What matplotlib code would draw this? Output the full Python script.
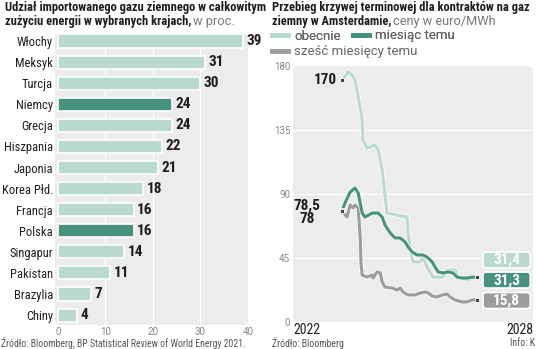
import numpy as np
import matplotlib
matplotlib.use('Agg')
import matplotlib.pyplot as plt
from matplotlib.patches import FancyBboxPatch
from matplotlib.lines import Line2D
import matplotlib.patheffects as pe

plt.rcParams['font.family'] = ['Roboto Condensed', 'DejaVu Sans']

# left chart: import share of natural gas, %
countries = ['Włochy', 'Meksyk', 'Turcja', 'Niemcy', 'Grecja', 'Hiszpania', 'Japonia',
             'Korea Płd.', 'Francja', 'Polska', 'Singapur', 'Pakistan', 'Brazylia', 'Chiny']
shares = [39, 31, 30, 24, 24, 22, 21, 18, 16, 16, 14, 11, 7, 4]
highlight = ['Niemcy', 'Polska']
bar_ticks = [0, 10, 20, 30, 40]

# right chart: forward curve, euro/MWh (x in years)
now_x = [2023.23, 2023.38, 2023.48, 2023.55, 2023.63, 2023.73, 2023.75, 2023.85, 2023.93,
         2024.05, 2024.13, 2024.23, 2024.30, 2024.35, 2024.60, 2024.85, 2024.88, 2024.93,
         2025.00, 2025.18, 2025.25, 2025.35, 2025.50, 2025.75, 2025.85, 2026.05, 2026.13,
         2026.35, 2026.60]
now_y = [170, 175.8, 173.7, 170.2, 158.2, 142, 128, 122.3, 123, 124.5, 121, 106.9, 89.3,
         76.6, 75.2, 73.8, 62.6, 50.6, 42.2, 42.2, 45.7, 38.7, 31.6, 31.6, 36.6, 36.6, 31.6,
         29.5, 31.4]
month_x = [2023.23, 2023.30, 2023.43, 2023.55, 2023.63, 2023.68, 2023.73, 2023.80, 2023.98,
           2024.13, 2024.23, 2024.30, 2024.43, 2024.55, 2024.68, 2024.80, 2024.88, 2024.98,
           2025.10, 2025.25, 2025.35, 2025.48, 2025.55, 2025.63, 2025.75, 2025.88, 2026.00,
           2026.10, 2026.23, 2026.35, 2026.50, 2026.60]
month_y = [78.5, 83.7, 91.4, 94.2, 90.7, 83.7, 76.6, 73.8, 76.6, 76.6, 73.8, 68.2, 62.6,
           59.1, 59.1, 56.3, 52.7, 49.2, 47.1, 47.1, 45.7, 42.2, 38.7, 35.2, 34.5, 35.2,
           34.5, 31.6, 30.9, 30.9, 31.6, 31.3]
half_x = [2023.23, 2023.35, 2023.43, 2023.50, 2023.55, 2023.63, 2023.68, 2023.70, 2023.73,
          2023.85, 2023.98, 2024.00, 2024.10, 2024.18, 2024.23, 2024.30, 2024.48, 2024.60,
          2024.68, 2024.75, 2024.88, 2025.05, 2025.18, 2025.30, 2025.38, 2025.48, 2025.60,
          2025.73, 2025.85, 2025.93, 2026.05, 2026.23, 2026.35, 2026.48, 2026.60]
half_y = [78, 73.8, 82.3, 80.2, 82.3, 80.2, 59.8, 41.5, 33, 31.6, 33, 30.9, 35.2, 34.5,
          28.1, 24.6, 23.9, 22.5, 23.9, 21.1, 19, 19, 20.4, 21.1, 20.4, 18.3, 17.6, 19,
          19.7, 17.6, 15.5, 14.1, 14.1, 15.5, 15.8]
price_ticks = [0, 45, 90, 135, 180]

LIGHT = '#bbdacf'
TEAL = '#47927f'
GREY = '#9c9c9c'
BG = '#ececec'
TXT = '#1e1e1e'

fig = plt.figure(figsize=(5.36, 3.49), dpi=100)
W, H = 536, 349


def box(px_left, px_top, px_right, px_bottom):
    return [px_left / W, 1 - px_bottom / H, (px_right - px_left) / W, (px_bottom - px_top) / H]


def rounded_bg(ax, wpx, hpx, r=0.025):
    ax.patch.set_visible(False)
    ax.add_patch(FancyBboxPatch((0, 0), 1, 1, boxstyle='round,pad=0,rounding_size=%f' % r,
                                mutation_aspect=wpx / hpx, transform=ax.transAxes,
                                facecolor=BG, edgecolor='none', zorder=0, clip_on=False))


# ---------- left: bars ----------
ax1 = fig.add_axes(box(55, 33, 248, 325))
rounded_bg(ax1, 193, 292)
ypos = np.arange(len(countries))
colors = [TEAL if c in highlight else LIGHT for c in countries]
ax1.barh(ypos, shares, height=0.62, color=colors, edgecolor='white', linewidth=1.2, zorder=3)
for y, v in zip(ypos, shares):
    ax1.text(v + 0.7, y, str(v), va='center', ha='left', fontsize=11,
             fontweight='bold', color=TXT, zorder=4)
ax1.set_xlim(-0.6, 40)
ax1.set_ylim(13.47, -0.38)
ax1.set_yticks(ypos)
ax1.set_yticklabels(countries, fontsize=9, color=TXT)
ax1.set_xticks(bar_ticks)
ax1.set_xticklabels([str(t) for t in bar_ticks], fontsize=7, color='#888888', family='Roboto')
ax1.tick_params(length=0, pad=1.5)
for t in bar_ticks[1:-1]:
    ax1.axvline(t, color='white', lw=0.8, zorder=1)
for s in ax1.spines.values():
    s.set_visible(False)

# ---------- right: lines ----------
ax2 = fig.add_axes(box(293, 66, 533, 322))
rounded_bg(ax2, 240, 256)
ax2.set_xlim(2022, 2028)
ax2.set_ylim(0, 180)
for t in price_ticks[1:-1]:
    ax2.axhline(t, color='white', lw=0.8, zorder=1)
halo = [pe.withStroke(linewidth=3.6, foreground='white', alpha=0.6)]
ax2.plot(half_x, half_y, color=GREY, lw=2.2, zorder=3, path_effects=halo, solid_capstyle='round')
ax2.plot(now_x, now_y, color=LIGHT, lw=2.2, zorder=4, path_effects=halo, solid_capstyle='round')
ax2.plot(month_x, month_y, color=TEAL, lw=2.2, zorder=5, path_effects=halo, solid_capstyle='round')

# start / end markers
for xs, ys in [(now_x, now_y), (month_x, month_y), (half_x, half_y)]:
    ax2.plot([xs[0], xs[-1]], [ys[0], ys[-1]], ls='none', marker='s', ms=2.6,
             mfc='#444444', mec='white', mew=0.6, zorder=6)

ax2.text(now_x[0] - 0.12, now_y[0], '%d' % now_y[0], ha='right', va='center',
         fontsize=11, fontweight='bold', color=TXT, zorder=6)
ax2.text(month_x[0] - 0.88, month_y[0] - 1.0,
         ('%.1f' % month_y[0]).replace('.', ',') + '\n' + '%d' % half_y[0],
         ha='center', va='center', fontsize=11, fontweight='bold', color=TXT,
         linespacing=0.95, zorder=6)

# end value boxes
for val, col, yc in [(now_y[-1], LIGHT, 43.6), (month_y[-1], TEAL, 29.5), (half_y[-1], GREY, 15.1)]:
    ax2.add_patch(FancyBboxPatch((2026.75, yc - 5.6), 1.18, 11.2,
                                 boxstyle='round,pad=0,rounding_size=0.07',
                                 mutation_aspect=28.1, facecolor=col, edgecolor='white',
                                 lw=1.2, zorder=6, clip_on=False))
    ax2.text(2027.34, yc, ('%.1f' % val).replace('.', ','), ha='center', va='center',
             fontsize=11, fontweight='bold', color='white', zorder=7)

ax2.set_yticks(price_ticks)
ax2.set_yticklabels([str(t) for t in price_ticks], fontsize=7, color='#888888', family='Roboto')
ax2.set_xticks([2022, 2028])
ax2.set_xticklabels(['2022', '2028'], fontsize=10, color=TXT)
ax2.get_xticklabels()[0].set_ha('left')
ax2.get_xticklabels()[1].set_ha('right')
ax2.tick_params(axis='y', length=0, pad=2)
ax2.tick_params(axis='x', length=0, pad=1)
for s in ax2.spines.values():
    s.set_visible(False)

# ---------- titles ----------
renderer = fig.canvas.get_renderer()


def mixed(x, y, bold, regular):
    t = fig.text(x / W, 1 - y / H, bold, fontsize=9, fontweight='bold', color=TXT, va='center')
    bb = t.get_window_extent(renderer)
    if regular:
        fig.text(bb.x1 / W + 0.002, 1 - y / H, regular, fontsize=9.2, color='#777777',
                 va='center', family='Roboto')


mixed(5, 8, 'Udział importowanego gazu ziemnego w całkowitym', '')
mixed(5, 22, 'zużyciu energii w wybranych krajach,', 'w proc.')
mixed(272, 8, 'Przebieg krzywej terminowej dla kontraktów na gaz', '')
mixed(272, 22, 'ziemny w Amsterdamie,', 'ceny w euro/MWh')

# legend (two rows, not column-aligned)
leg_kw = dict(frameon=False, handlelength=1.2, handletextpad=0.5, columnspacing=0.9,
              labelcolor='#666666', borderpad=0, borderaxespad=0, loc='center left',
              prop={'family': 'Roboto', 'size': 9.5})
leg1 = fig.legend([Line2D([], [], color=LIGHT, lw=3.5), Line2D([], [], color=TEAL, lw=3.5)],
                  ['obecnie', 'miesiąc temu'], ncol=2, bbox_to_anchor=(272 / W, 1 - 36 / H), **leg_kw)
fig.legend([Line2D([], [], color=GREY, lw=3.5)], ['sześć miesięcy temu'],
           bbox_to_anchor=(272 / W, 1 - 52 / H), **leg_kw)
fig.add_artist(leg1)

# sources
fig.text(1 / W, 1 - 343 / H, 'Źródło: Bloomberg, BP Statistical Review of World Energy 2021.',
         fontsize=7, color='#555555', va='center')
fig.text(272 / W, 1 - 343 / H, 'Źródło: Bloomberg', fontsize=7, color='#555555', va='center')
fig.text(535 / W, 1 - 343 / H, 'Info: K', fontsize=7, color='#555555', va='center', ha='right')

fig.savefig('out.png', dpi=100)
